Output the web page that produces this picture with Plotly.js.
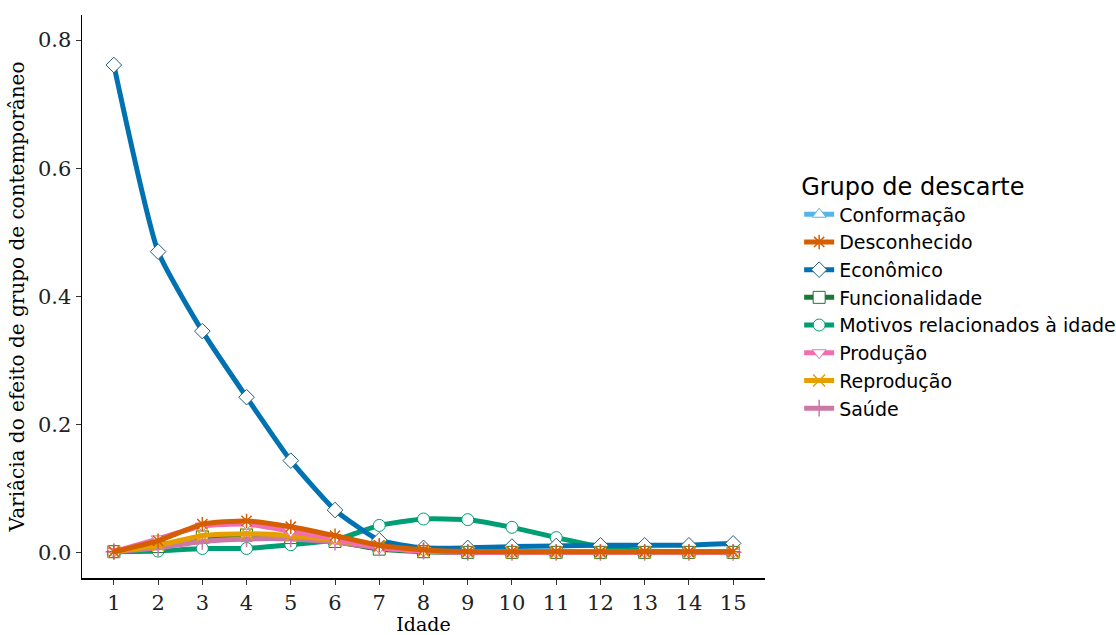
<!DOCTYPE html>
<html><head><meta charset="utf-8">
<script src="https://cdn.plot.ly/plotly-3.0.1.min.js"></script>
<style>body{margin:0;background:#fff}#c{width:1116px;height:635px}</style>
</head><body><div id="c"></div>
<script>
const idade = [1,2,3,4,5,6,7,8,9,10,11,12,13,14,15];
const groups = ["Conformação","Desconhecido","Econômico","Funcionalidade","Motivos relacionados à idade","Produção","Reprodução","Saúde"];
const conformacao   = [0.002,0.010,0.020,0.024,0.024,0.018,0.007,0.003,0.002,0.001,0.001,0.001,0.001,0.001,0.001];
const desconhecido  = [0.002,0.019,0.045,0.050,0.041,0.027,0.012,0.005,0.002,0.002,0.002,0.002,0.002,0.002,0.002];
const economico     = [0.761,0.470,0.346,0.243,0.144,0.067,0.020,0.008,0.008,0.010,0.011,0.012,0.012,0.012,0.015];
const funcionalidade= [0.002,0.010,0.025,0.028,0.024,0.018,0.006,0.002,0.001,0.001,0.001,0.001,0.001,0.001,0.001];
const motivos       = [0.002,0.003,0.007,0.007,0.013,0.020,0.043,0.053,0.052,0.040,0.024,0.010,0.003,0.002,0.002];
const producao      = [0.002,0.022,0.042,0.045,0.034,0.022,0.008,0.003,0.001,0.001,0.001,0.001,0.001,0.001,0.001];
const reproducao    = [0.002,0.012,0.027,0.030,0.027,0.020,0.010,0.003,0.002,0.001,0.001,0.001,0.001,0.001,0.001];
const saude         = [0.002,0.008,0.018,0.022,0.022,0.017,0.008,0.003,0.001,0.001,0.001,0.001,0.001,0.001,0.001];
const seriesVals = [conformacao,desconhecido,economico,funcionalidade,motivos,producao,reproducao,saude];
const colors = ["#56B4E9","#D55E00","#0072B2","#1B7837","#009E73","#F26EB0","#E69F00","#CC79A7"];
const symbols = ["triangle-up","asterisk-open","diamond","square","circle","triangle-down","x-thin-open","cross-thin-open"];
const drawOrder = [4,2,0,3,7,6,5,1];
const traces = drawOrder.map(i => {
  const open = symbols[i].indexOf("thin")>=0 || symbols[i].indexOf("asterisk")>=0;
  return {
    x: idade, y: seriesVals[i], name: groups[i], type: "scatter", mode: "lines+markers",
    legendrank: i+1,
    line: {color: colors[i], width: 5, shape: "spline", smoothing: 0.5},
    marker: {symbol: symbols[i], size: 12, color: open ? colors[i] : "#ffffff",
             line: {color: open ? colors[i] : (i===2 ? "#1f5f7a" : colors[i]), width: open ? 1.5 : 1}}
  };
});
const serif = "DejaVu Serif, serif";
const layout = {
  width: 1116, height: 635,
  margin: {l: 82, r: 351, t: 15, b: 57, autoexpand: false},
  paper_bgcolor: "#fff", plot_bgcolor: "#fff",
  showlegend: true,
  font: {family: serif, color: "#000"},
  xaxis: {
    range: [0.28, 15.72], tickvals: idade, ticktext: idade.map(String),
    showgrid: false, zeroline: false, showline: true, linecolor: "#000", linewidth: 1.5,
    ticks: "outside", ticklen: 5, tickcolor: "#333", tickfont: {family: serif, size: 21, color: "#222"},
    title: {text: "Idade", font: {family: serif, size: 19}, standoff: 8}
  },
  yaxis: {
    range: [-0.039, 0.839], tickvals: [0,0.2,0.4,0.6,0.8], ticktext: ["0.0","0.2","0.4","0.6","0.8"],
    showgrid: false, zeroline: false, showline: true, linecolor: "#000", linewidth: 1.5,
    ticks: "outside", ticklen: 5, tickcolor: "#333", tickfont: {family: serif, size: 21, color: "#222"},
    title: {text: "Variâcia do efeito de grupo de contemporâneo", font: {family: serif, size: 20}, standoff: 8}
  },
  legend: {
    x: 1.05, y: 0.735, xanchor: "left", yanchor: "top",
    font: {family: "DejaVu Sans, sans-serif", size: 19, color: "#000"},
    title: {text: "Grupo de descarte", font: {family: "DejaVu Sans, sans-serif", size: 24}},
    tracegroupgap: 0, itemwidth: 30, traceorder: "normal"
  }
};
Plotly.newPlot("c", traces, layout, {displayModeBar: false, staticPlot: true});
</script></body></html>
